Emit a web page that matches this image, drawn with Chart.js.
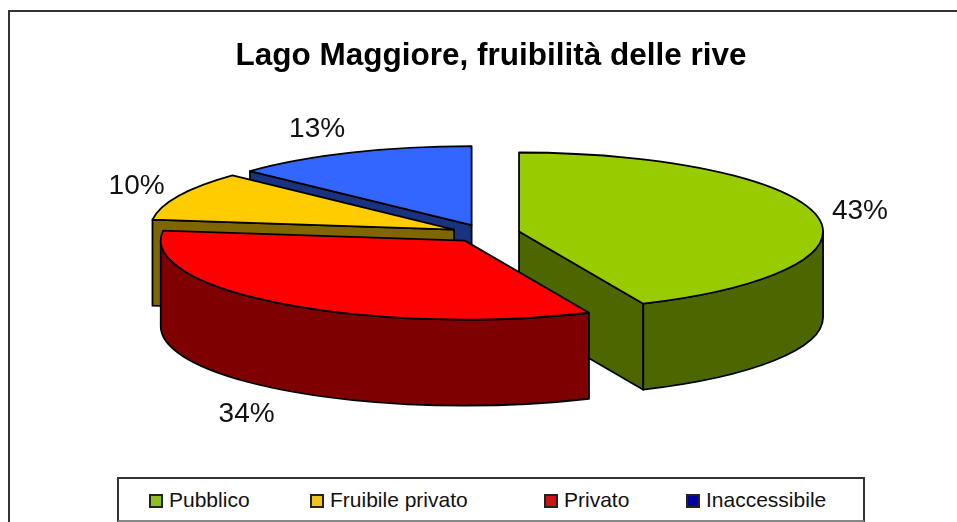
<!DOCTYPE html>
<html>
<head>
<meta charset="utf-8">
<title>Lago Maggiore, fruibilità delle rive</title>
<script src="https://cdn.jsdelivr.net/npm/chart.js@4"></script>
<style>
    html, body { margin: 0; padding: 0; background: #fff; }
    #wrap { position: relative; width: 957px; height: 522px; overflow: hidden; }
    #frame { position: absolute; left: 8px; top: 10px; right: -4px; bottom: -4px; border: 2px solid #333; }
    #pie { position: absolute; left: 0; top: 0; }
    #legendBox {
        position: absolute; left: 117px; top: 477px; width: 744px; height: 41px;
        border: 2px solid #333; border-bottom-color: #888; background: #fff;
        font: 21px "Liberation Sans", Arial, sans-serif; color: #111;
    }
    #legendBox .item { position: absolute; top: 0; height: 41px; line-height: 41px; white-space: nowrap; }
    #legendBox .swatch {
        display: inline-block; width: 10px; height: 10px; margin-right: 6px;
        border: 2px solid #222; vertical-align: -1px;
    }
</style>
</head>
<body>
<div id="wrap">
    <div id="frame"></div>
    <canvas id="pie" width="957" height="522"></canvas>
    <div id="legendBox"></div>
</div>
<script>
// Data, clockwise from 12 o'clock as the slices sit on the pie
const categories = ['Pubblico', 'Privato', 'Fruibile privato', 'Inaccessibile'];
const shares = [43.3, 33.7, 10, 13];
const topColors = ['#99CC00', '#FF0000', '#FFCC00', '#3366FF'];
const wallColors = ['#4C6600', '#7F0000', '#806600', '#1A3380'];

// The legend lists them in another order
const legendOrder = ['Pubblico', 'Fruibile privato', 'Privato', 'Inaccessibile'];
const legendColors = ['#8FBF20', '#F0C420', '#CC1414', '#0000A0'];
const legendLefts = [30, 191, 425, 567];

const chartTitle = 'Lago Maggiore, fruibilità delle rive';

// 3D look
const tilt = 0.26;
const depth = 86;
const pieRadius = 304;
const explode = 34.5;
const shiftX = -5.7;

// Pie that lays its arc elements flat and gives them a wall
class Pie3D extends Chart.PieController {
    draw() {
        const ctx = this.chart.ctx;
        const arcs = this.getMeta().data.map((arc, i) => {
            const mid = (arc.startAngle + arc.endAngle) / 2;
            return {
                arc, i, mid,
                x: arc.x + shiftX + Math.cos(mid) * explode,
                y: arc.y + Math.sin(mid) * explode * tilt
            };
        });

        // back slices first
        arcs.sort((a, b) => Math.sin(a.mid) - Math.sin(b.mid));

        ctx.save();
        ctx.lineWidth = 1.8;
        ctx.strokeStyle = '#000';
        ctx.lineJoin = 'round';
        arcs.forEach(s => this.drawSlice(ctx, s));
        ctx.restore();

        // percent labels outside the rim
        ctx.save();
        ctx.font = '28px "Liberation Sans", Arial, sans-serif';
        ctx.fillStyle = '#111';
        ctx.textAlign = 'center';
        ctx.textBaseline = 'middle';
        arcs.forEach(s => {
            const r = s.arc.outerRadius;
            const cos = Math.cos(s.mid), sin = Math.sin(s.mid);
            const lx = s.x + cos * r + Math.sign(cos) * (27 + 17 * Math.abs(cos));
            const ly = s.y + sin * r * tilt + sin * 28 + (sin > 0.5 ? depth : 0) + 2;
            ctx.fillText(Math.round(shares[s.i]) + '%', lx, ly);
        });
        ctx.restore();
    }

    drawSlice(ctx, s) {
        const { startAngle: a0, endAngle: a1, outerRadius: r } = s.arc;
        const ry = r * tilt;
        const px = a => s.x + Math.cos(a) * r;
        const py = a => s.y + Math.sin(a) * ry;

        ctx.fillStyle = wallColors[s.i];

        // straight walls that face the viewer
        const edge = a => {
            ctx.beginPath();
            ctx.moveTo(s.x, s.y);
            ctx.lineTo(px(a), py(a));
            ctx.lineTo(px(a), py(a) + depth);
            ctx.lineTo(s.x, s.y + depth);
            ctx.closePath();
            ctx.fill();
            ctx.stroke();
        };
        if (Math.cos(a0) < -1e-6) edge(a0);
        if (Math.cos(a1) > 1e-6) edge(a1);

        // rim, only the front half shows
        const lo = Math.max(a0, 0), hi = Math.min(a1, Math.PI);
        if (lo < hi) {
            ctx.beginPath();
            ctx.ellipse(s.x, s.y, r, ry, 0, lo, hi);
            ctx.lineTo(px(hi), py(hi) + depth);
            ctx.ellipse(s.x, s.y + depth, r, ry, 0, hi, lo, true);
            ctx.closePath();
            ctx.fill();
            ctx.stroke();
        }

        // top face
        ctx.fillStyle = s.arc.options.backgroundColor;
        ctx.beginPath();
        ctx.moveTo(s.x, s.y);
        ctx.ellipse(s.x, s.y, r, ry, 0, a0, a1);
        ctx.closePath();
        ctx.fill();
        ctx.stroke();
    }
}
Pie3D.id = 'pie3d';
Pie3D.defaults = {};
Chart.register(Pie3D);

new Chart(document.getElementById('pie'), {
    type: 'pie3d',
    data: {
        labels: categories,
        datasets: [{
            data: shares,
            backgroundColor: topColors,
            radius: pieRadius
        }]
    },
    options: {
        responsive: false,
        animation: false,
        layout: { padding: { left: 25, top: 0, right: 0, bottom: 130 } },
        plugins: {
            legend: { display: false },
            tooltip: { enabled: false },
            title: {
                display: true,
                text: chartTitle,
                color: '#000',
                font: { family: '"Liberation Sans", Arial, sans-serif', size: 31.5, weight: 'bold' },
                padding: { top: 37, bottom: 0 }
            }
        }
    }
});

// Legend box
const legendBox = document.getElementById('legendBox');
legendOrder.forEach((name, i) => {
    const item = document.createElement('span');
    item.className = 'item';
    item.style.left = legendLefts[i] + 'px';
    const swatch = document.createElement('span');
    swatch.className = 'swatch';
    swatch.style.background = legendColors[i];
    item.appendChild(swatch);
    item.appendChild(document.createTextNode(name));
    legendBox.appendChild(item);
});
</script>
</body>
</html>
